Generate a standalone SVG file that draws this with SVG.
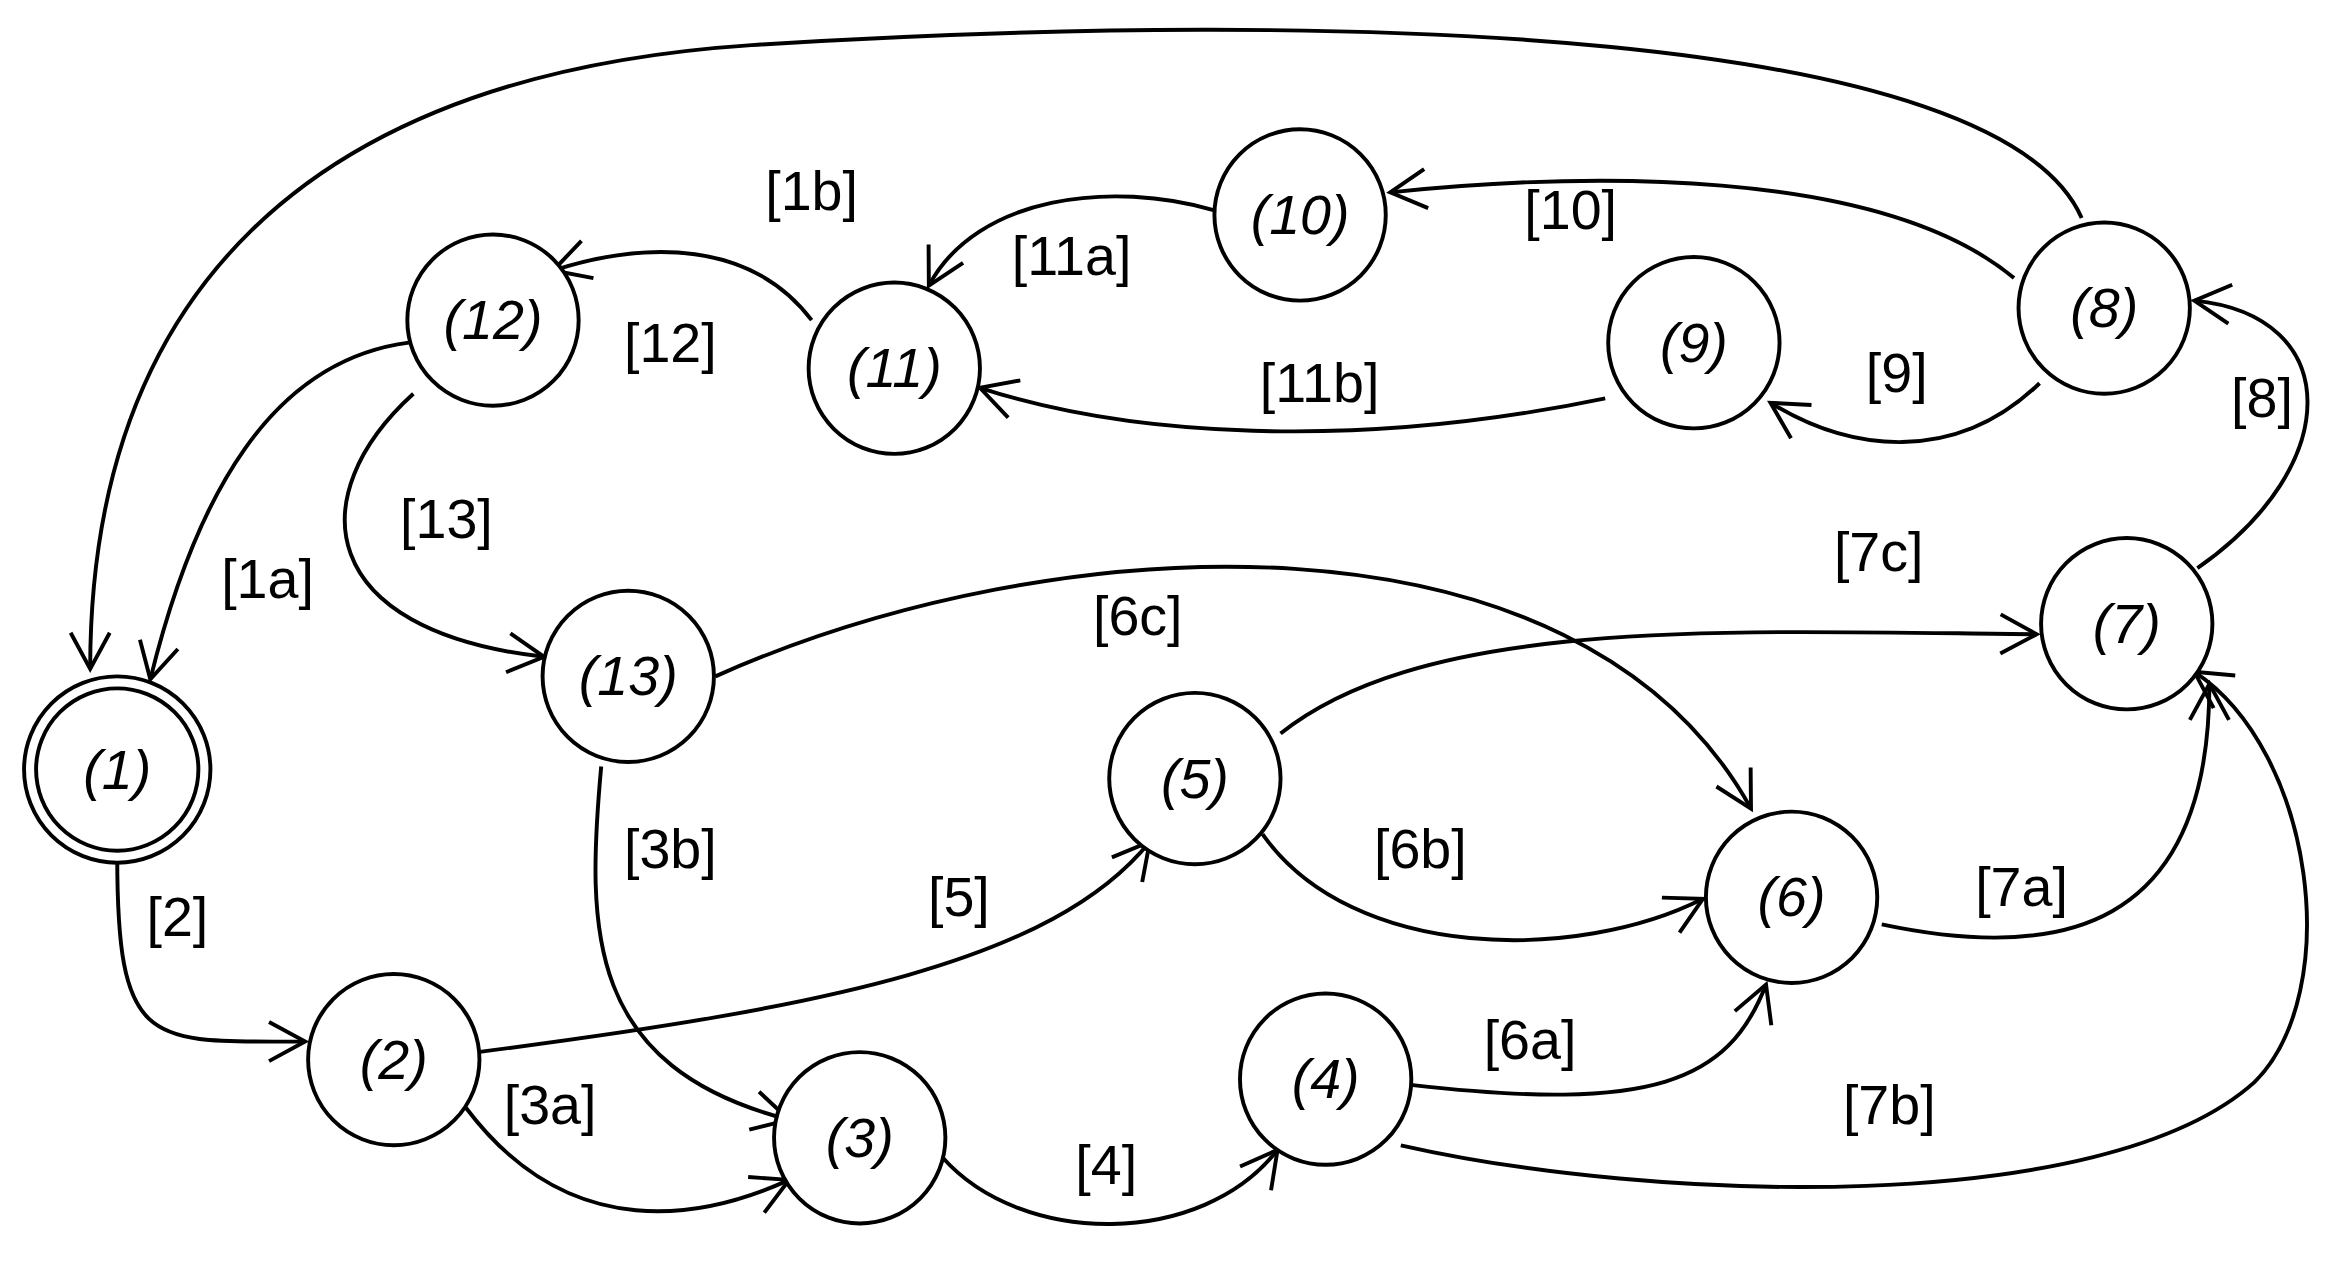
<svg xmlns="http://www.w3.org/2000/svg" width="2345" height="1263" viewBox="0 0 2345 1263">
<style>
.n{fill:#fff;stroke:#000;stroke-width:2.6}
.nt{font-family:"Liberation Sans",Arial,sans-serif;font-style:italic;font-size:37px;text-anchor:middle;dominant-baseline:central}
.e{fill:none;stroke:#000;stroke-width:2.6;marker-end:url(#a)}
.l{font-family:"Liberation Sans",Arial,sans-serif;font-size:37px;text-anchor:middle;dominant-baseline:central}
</style>
<defs><marker id="a" markerUnits="userSpaceOnUse" viewBox="-30 -20 40 40" markerWidth="40" markerHeight="40" orient="auto"><path d="M-24,-13 L0,0 L-24,13" fill="none" stroke="#000" stroke-width="2.6"/></marker></defs>
<rect width="2345" height="1263" fill="#fff"/>
<g transform="scale(1.503)">
<g id="connectors">
<path class="e" d="M1385,145 C1330,20 900,5 500,30 C200,50 60,200 60,445"/>
<path class="e" d="M272,228 C180,240 130,330 100,452"/>
<path class="e" d="M78,570 C78,700 100,693 203,693"/>
<path class="e" d="M275,262 C200,330 210,420 362,437"/>
<path class="e" d="M540,213 C500,160 430,160 368,180"/>
<path class="e" d="M808,140 C740,120 650,130 618,190"/>
<path class="e" d="M1340,185 C1250,110 1050,115 925,128"/>
<path class="e" d="M1357,255 C1300,310 1230,300 1178,268"/>
<path class="e" d="M1068,265 C900,300 750,290 652,258"/>
<path class="e" d="M1462,378 C1560,310 1560,210 1460,200"/>
<path class="e" d="M852,488 C950,410 1150,420 1355,422"/>
<path class="e" d="M476,450 C700,350 1050,330 1165,538"/>
<path class="e" d="M840,555 C900,640 1050,640 1133,598"/>
<path class="e" d="M1252,615 C1370,640 1470,620 1470,455"/>
<path class="e" d="M932,762 C1100,800 1400,810 1500,720 C1560,660 1540,500 1460,447"/>
<path class="e" d="M940,722 C1100,740 1150,720 1175,655"/>
<path class="e" d="M627,770 C680,830 800,830 850,765"/>
<path class="e" d="M310,737 C380,830 470,810 525,785"/>
<path class="e" d="M400,510 C390,620 390,710 525,745"/>
<path class="e" d="M318,700 C550,670 700,640 765,560"/>
</g>
<g id="labels">
<text class="l" x="540" y="127">[1b]</text><text class="l" x="178" y="385">[1a]</text>
<text class="l" x="118" y="610">[2]</text><text class="l" x="297" y="345">[13]</text>
<text class="l" x="446" y="228">[12]</text><text class="l" x="713" y="170">[11a]</text>
<text class="l" x="1045" y="140">[10]</text><text class="l" x="878" y="255">[11b]</text>
<text class="l" x="1262" y="248">[9]</text><text class="l" x="1505" y="265">[8]</text>
<text class="l" x="1250" y="367">[7c]</text><text class="l" x="757" y="410">[6c]</text>
<text class="l" x="446" y="565">[3b]</text><text class="l" x="638" y="597">[5]</text>
<text class="l" x="945" y="565">[6b]</text><text class="l" x="1345" y="590">[7a]</text>
<text class="l" x="1018" y="692">[6a]</text><text class="l" x="1257" y="735">[7b]</text>
<text class="l" x="366" y="735">[3a]</text><text class="l" x="736" y="775">[4]</text>
</g>
<g id="n1"><circle class="n" cx="78" cy="512" r="62" stroke-width="3.5"/><circle class="n" cx="78" cy="512" r="54" stroke-width="3.5"/><text class="nt" x="78" y="512">(1)</text></g>
<g id="n2"><circle class="n" cx="262" cy="705" r="57"/><text class="nt" x="262" y="705">(2)</text></g>
<g id="n3"><circle class="n" cx="572" cy="757" r="57"/><text class="nt" x="572" y="757">(3)</text></g>
<g id="n4"><circle class="n" cx="882" cy="718" r="57"/><text class="nt" x="882" y="718">(4)</text></g>
<g id="n5"><circle class="n" cx="795" cy="518" r="57"/><text class="nt" x="795" y="518">(5)</text></g>
<g id="n6"><circle class="n" cx="1192" cy="597" r="57"/><text class="nt" x="1192" y="597">(6)</text></g>
<g id="n7"><circle class="n" cx="1415" cy="415" r="57"/><text class="nt" x="1415" y="415">(7)</text></g>
<g id="n8"><circle class="n" cx="1400" cy="205" r="57"/><text class="nt" x="1400" y="205">(8)</text></g>
<g id="n9"><circle class="n" cx="1127" cy="228" r="57"/><text class="nt" x="1127" y="228">(9)</text></g>
<g id="n10"><circle class="n" cx="865" cy="143" r="57"/><text class="nt" x="865" y="143">(10)</text></g>
<g id="n11"><circle class="n" cx="595" cy="245" r="57"/><text class="nt" x="595" y="245">(11)</text></g>
<g id="n12"><circle class="n" cx="328" cy="213" r="57"/><text class="nt" x="328" y="213">(12)</text></g>
<g id="n13"><circle class="n" cx="418" cy="450" r="57"/><text class="nt" x="418" y="450">(13)</text></g>
</g>
</svg>
